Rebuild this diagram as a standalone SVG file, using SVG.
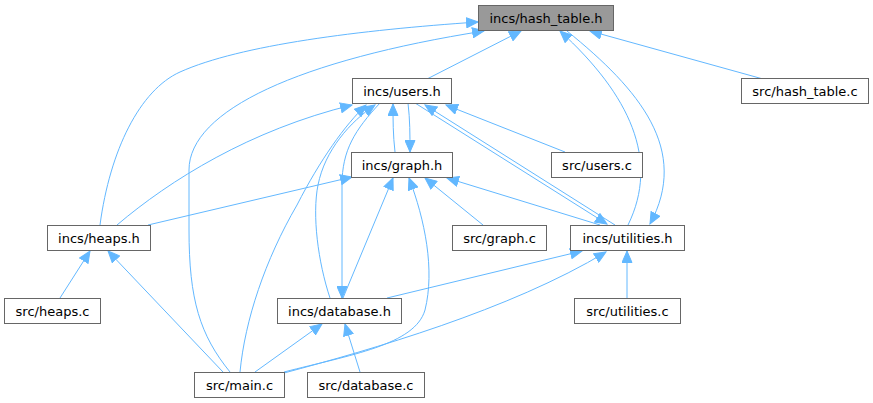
<svg xmlns="http://www.w3.org/2000/svg" width="873" height="403" viewBox="0 0 873 403">
<style>
.n rect{fill:#ffffff;stroke:#666666;stroke-width:1}
.n text{font-family:"DejaVu Sans",sans-serif;font-size:13px;fill:#000000;text-anchor:middle}
#edges path{fill:none;stroke:#63b8ff;stroke-width:1;marker-end:url(#a)}
</style>
<defs>
<marker id="a" markerWidth="13" markerHeight="11" refX="12" refY="5.5" orient="auto" markerUnits="userSpaceOnUse" viewBox="0 0 13 11">
<path d="M0.5,0.5 L12,5.5 L0.5,10.5 Z" fill="#63b8ff" stroke="#63b8ff" stroke-width="1"/>
</marker>
</defs>
<rect width="873" height="403" fill="#ffffff"/>
<g id="edges">
<path d="M427,79 L521,31"/>
<path d="M100,225 C110,150 140,90 180,72 C240,45 360,30 478,22"/>
<path d="M230,372 C200,335 189,300 189,230 L189,170 C189,110 300,60 484,31"/>
<path d="M628,225 C660,160 630,95 560,31"/>
<path d="M567,31 C640,90 690,150 650,224"/>
<path d="M763,79 L590,31"/>
<path d="M117,225 C170,180 250,130 352,105"/>
<path d="M395,152 C393,135 393,120 393,104"/>
<path d="M408,103 C410,120 410,135 410,152"/>
<path d="M240,372 C245,320 265,260 297,205 C320,160 345,125 366,105"/>
<path d="M330,298 C318,262 312,215 318,185 C325,150 350,122 375,105"/>
<path d="M380,103 C355,130 342,150 342,185 L342,298"/>
<path d="M565,152 L446,105"/>
<path d="M415,103 L607,224"/>
<path d="M615,225 L425,105"/>
<path d="M148,225 L352,177"/>
<path d="M343,298 L393,178"/>
<path d="M284,372 C350,355 415,345 425,310 C435,270 425,220 409,178"/>
<path d="M483,225 L425,178"/>
<path d="M600,225 L447,178"/>
<path d="M387,298 L582,251"/>
<path d="M284,373 C370,350 510,310 606,252"/>
<path d="M627,298 L627,251"/>
<path d="M60,298 L90,251"/>
<path d="M223,372 L108,251"/>
<path d="M255,372 L322,324"/>
<path d="M360,372 L345,324"/>
</g>
<g id="hash_table_h" class="n"><rect x="478.5" y="5.5" width="135" height="25" style="fill:#999999"/><text x="546" y="22.5">incs/hash_table.h</text></g>
<g id="users_h" class="n"><rect x="352.5" y="78.5" width="99" height="25"/><text x="402" y="95.5">incs/users.h</text></g>
<g id="graph_h" class="n"><rect x="351.5" y="152.5" width="101" height="25"/><text x="402" y="169.5">incs/graph.h</text></g>
<g id="users_c" class="n"><rect x="551.5" y="152.5" width="91" height="25"/><text x="597" y="169.5">src/users.c</text></g>
<g id="graph_c" class="n"><rect x="452.5" y="225.5" width="94" height="25"/><text x="499.5" y="242.5">src/graph.c</text></g>
<g id="utilities_h" class="n"><rect x="570.5" y="225.5" width="114" height="25"/><text x="627.5" y="242.5">incs/utilities.h</text></g>
<g id="utilities_c" class="n"><rect x="574.5" y="298.5" width="106" height="25"/><text x="627.5" y="315.5">src/utilities.c</text></g>
<g id="heaps_h" class="n"><rect x="47.5" y="225.5" width="103" height="25"/><text x="99" y="242.5">incs/heaps.h</text></g>
<g id="heaps_c" class="n"><rect x="4.5" y="298.5" width="96" height="25"/><text x="52.5" y="315.5">src/heaps.c</text></g>
<g id="database_h" class="n"><rect x="277.5" y="298.5" width="124" height="25"/><text x="339.5" y="315.5">incs/database.h</text></g>
<g id="main_c" class="n"><rect x="194.5" y="372.5" width="90" height="25"/><text x="239.5" y="389.5">src/main.c</text></g>
<g id="database_c" class="n"><rect x="307.5" y="372.5" width="117" height="25"/><text x="366" y="389.5">src/database.c</text></g>
<g id="hash_table_c" class="n"><rect x="741.5" y="78.5" width="127" height="25"/><text x="805" y="95.5">src/hash_table.c</text></g>
</svg>
